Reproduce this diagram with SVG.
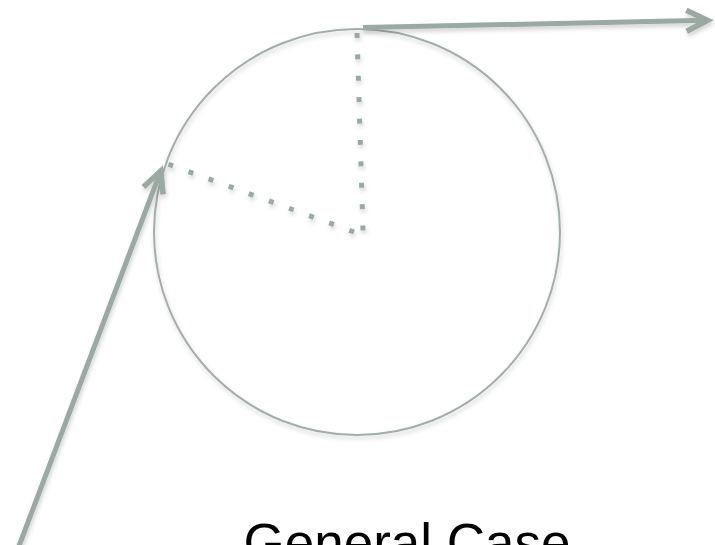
<svg xmlns="http://www.w3.org/2000/svg" width="715" height="545" viewBox="0 0 715 545">
<style>
.ln{fill:none;stroke:#9ba9a3}
.arrow{stroke-width:5}
.dot{stroke-width:5;stroke-dasharray:5 16.4}
.lbl{font-family:"Liberation Sans",Arial,sans-serif;font-size:53px;fill:#000}
</style>
<defs>
<filter id="sh" x="-10%" y="-10%" width="120%" height="130%">
<feDropShadow dx="1" dy="3" stdDeviation="2" flood-color="#000" flood-opacity="0.18"/>
</filter>
<marker id="head" markerUnits="userSpaceOnUse" viewBox="-30 -20 40 40" refX="0" refY="0" markerWidth="40" markerHeight="40" orient="auto" overflow="visible">
<path d="M -21 -10.5 L 0 0 L -21 10.5" fill="none" stroke="#9ba9a3" stroke-width="5.5" stroke-linejoin="miter"/>
</marker>
</defs>
<g id="circle" filter="url(#sh)">
<circle cx="357" cy="232" r="203" fill="none" stroke="#a3aea9" stroke-width="2"/>
</g>
<g id="connectors" filter="url(#sh)">
<line class="ln dot" x1="357" y1="33" x2="363" y2="231"/>
<line class="ln dot" x1="354" y1="232" x2="165" y2="163"/>
<line class="ln arrow" x1="363" y1="27.5" x2="707.5" y2="20.3" marker-end="url(#head)"/>
<line class="ln arrow" x1="19" y1="546" x2="160.7" y2="171" marker-end="url(#head)"/>
</g>
<g id="label">
<text class="lbl" x="407" y="560.5" text-anchor="middle">General Case</text>
</g>
</svg>
